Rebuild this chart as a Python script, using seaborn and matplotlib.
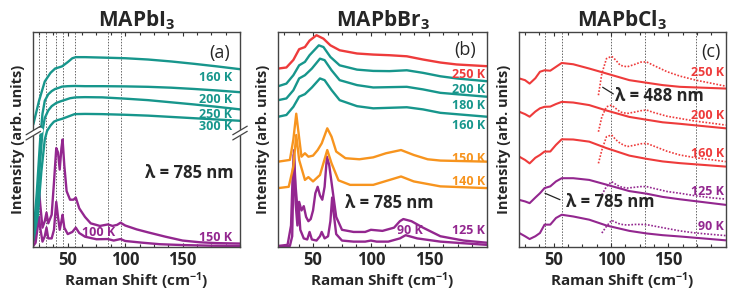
import numpy as np
import pandas as pd
import matplotlib
matplotlib.use("Agg")
import matplotlib.pyplot as plt
import seaborn as sns
from matplotlib.ticker import MultipleLocator, FixedLocator

# ---------------- data (intensity in arb. units, 0-100 axis) -------------
# Panel (a) MAPbI3
A_X_160 = [20, 25, 30, 35, 39, 42, 45, 50, 54, 57, 65, 80, 100, 120, 140, 160, 180, 200]
A_Y_160 = [57, 68, 77, 81, 83, 83.5, 84, 86, 87.8, 88.3, 88.3, 88.1, 87.8, 87.2, 86.3, 85.2, 84, 82.7]
A_X_200 = [20, 23, 26, 28, 30, 33, 36, 39, 42, 45, 50, 56, 65, 80, 100, 120, 140, 160, 180, 200]
A_Y_200 = [5, 25, 50, 62, 68, 71, 72.5, 73.5, 74, 74.6, 74.8, 74.9, 74.8, 74.8, 74.7, 74.5, 74.1, 73.5, 72.8, 72.0]
A_X_250 = [20, 23, 26, 28, 30, 33, 36, 40, 44, 48, 52, 57, 65, 80, 100, 120, 140, 160, 180, 200]
A_Y_250 = [4, 18, 40, 54, 60, 63.5, 65.5, 67, 67.8, 68.5, 69.2, 69.6, 69.7, 69.6, 69, 68.3, 67.3, 66.3, 65.2, 64]
A_X_300 = [20, 24, 27, 30, 32, 35, 38, 41, 45, 50, 56, 65, 80, 100, 120, 140, 160, 180, 200]
A_Y_300 = [3, 15, 35, 50, 54, 56.5, 58.3, 59, 59.6, 60.6, 61.8, 61.9, 61.8, 61.5, 61.1, 60.5, 59.9, 59.3, 58.7]
A_X_150 = [20, 22, 24, 25, 26, 28, 30, 31.5, 33, 36, 38, 40, 41.5, 43, 44.5, 45.5, 47, 49, 52, 55, 57,
           60, 65, 70, 78, 85, 89, 93, 96, 100, 110, 120, 135, 150, 165, 180, 200]
A_Y_150 = [2, 6, 20, 27, 20, 9, 12, 16, 11, 15, 30, 46, 44, 36, 46, 50, 38, 26, 22, 22, 23,
           18, 14, 11, 9.8, 10.5, 9.8, 10.3, 11.3, 10, 8.2, 6.8, 4.8, 3, 2.2, 1.8, 1.6]
A_X_100 = [20, 22, 24, 25, 26, 28, 30, 31.5, 33, 36, 38, 40, 41.5, 43, 44.5, 45.5, 47, 50, 54, 57,
           60, 65, 75, 85, 90, 96, 100, 115, 130, 150, 175, 200]
A_Y_100 = [0.5, 2, 10, 14, 9, 2.5, 5, 9, 4, 4, 8, 21, 14, 8, 12, 15, 9, 6, 7, 9,
           6.5, 4.8, 3.6, 3.7, 3, 3.7, 2.8, 2, 1.3, 0.9, 0.6, 0.5]
A_DASH = [25, 31, 40, 45.5, 56.5, 85, 96]

# Panel (b) MAPbBr3
B_X_250 = [20, 27, 33, 38, 43, 47, 53, 59, 65, 73, 88, 102, 116, 131, 145, 160, 174, 200]
B_Y_250 = [83, 83.5, 87, 92, 93, 96, 98.5, 96.9, 93.8, 91.5, 90, 89.5, 89.2, 88.7, 87.2, 85.8, 84.9, 84.1]
B_X_200 = [20, 27, 33, 38, 43, 47, 55, 59, 65, 73, 88, 102, 116, 131, 145, 160, 174, 200]
B_Y_200 = [74.8, 76, 79.9, 84.5, 86.1, 89.2, 93.8, 93, 88.4, 84.5, 82.5, 81.9, 81.8, 82.2, 81, 79.4, 78.4, 77.1]
B_X_180 = [20, 27, 33, 38, 43, 49, 56, 60, 66, 73, 88, 102, 131, 145, 160, 200]
B_Y_180 = [68.3, 69.1, 72.9, 78.4, 79.9, 83, 87.6, 86.9, 82.2, 77.6, 75.3, 74.2, 74.5, 73.3, 71.7, 69.9]
B_X_160 = [20, 27, 33, 38, 43, 49, 56, 60, 66, 73, 88, 102, 131, 145, 160, 200]
B_Y_160 = [60.6, 61.4, 65.2, 69.9, 71.1, 74.2, 78.4, 77.6, 73, 68.3, 65.5, 64.5, 65, 64, 62.4, 60.6]
B_X_150 = [20, 30, 33, 35.5, 37.5, 40, 43, 46, 50, 54, 57.5, 62.3, 66, 70, 78, 90, 102, 113, 126, 137,
           149, 160, 200]
B_Y_150 = [39.7, 40.5, 50, 62, 53, 42, 43.6, 42, 42.5, 45.1, 48.2, 55.2, 51.3, 44.4, 41.3, 40.8, 41.7, 43.6,
           45.1, 42.8, 40.8, 40.2, 39.7]
B_X_140 = [20, 29, 33, 35.5, 38, 43, 46, 50, 56, 62.3, 66, 72, 82, 102, 126, 137, 160, 200]
B_Y_140 = [27.4, 28, 37.4, 52.1, 40.5, 31.2, 32.5, 30.5, 33.5, 45.1, 38.9, 31, 28.9, 28.9, 32.8, 30.5, 28.2, 27.4]
B_X_125 = [20, 28, 31, 32.5, 33.5, 35, 36.5, 38, 40, 42, 44, 46, 48, 50, 52, 54, 56, 58, 60, 62, 64,
           66, 68, 70, 75, 85, 95, 100, 110, 120, 125, 128, 135, 145, 160, 180, 200]
B_Y_125 = [0.5, 1, 10, 35, 43, 28, 18, 21, 17, 19, 14, 12, 13, 17, 25, 28, 24, 22, 28, 42, 38,
           30, 22, 14, 8, 7, 7, 8, 7.5, 9, 12, 13, 12, 9, 5, 3, 2]
B_X_90 = [20, 30, 32, 33.5, 35, 36.5, 37.5, 39, 42, 45, 47, 49, 53, 56, 57.5, 60, 63, 65, 66.5, 68, 70,
          75, 85, 95, 100, 105, 115, 125, 130, 140, 160, 200]
B_Y_90 = [0, 0.5, 5, 45, 20, 10, 20, 8, 4, 3.5, 7, 3.5, 3, 5, 7, 4, 5, 12, 23, 15, 6,
          3, 2.5, 2.5, 3, 2.5, 2.5, 4, 5.5, 4, 2.5, 1]

# Panel (c) MAPbCl3 (solid: 785 nm, dotted: 488 nm)
C_X_SOLID = [20, 25, 29, 34, 38, 42, 47, 52, 57, 67, 81, 96, 116, 131, 145, 160, 200]
C_Y_250 = [78.4, 77.6, 76, 78.5, 81.5, 82.2, 82, 83.8, 85.6, 85, 83, 80.7, 77.6, 76.4, 75.3, 74.5, 73.7]
C_Y_200 = [62.9, 61.8, 60.6, 63, 64.5, 65.2, 65.3, 66.5, 67.5, 67.2, 66, 63.5, 60.5, 59.2, 58, 57.3, 55.2]
C_Y_160 = [42, 40.5, 38.9, 41.5, 42.8, 44.4, 44.4, 47.5, 50.1, 50, 49, 46, 42.5, 41, 39.8, 39, 37.4]
C_Y_125 = [21.9, 21.2, 20.4, 23, 25, 27.4, 28.2, 30.5, 32, 32, 31.2, 29, 26, 24.8, 23.3, 22.2, 19.6]
C_Y_90 = [6.5, 5, 3.7, 5, 6.5, 10.4, 10.4, 13.5, 15, 14.2, 12.7, 10, 7.5, 6.3, 5.5, 4.9, 3.1]
C_X_DOT = [89, 92, 96, 100.5, 104, 108, 114, 121, 126, 131, 137, 149, 160, 174, 189, 200]
C_D_250 = [70.6, 80.7, 87.6, 88.7, 87, 84.5, 83.8, 85, 86, 86.1, 84.5, 81.5, 79.5, 77.6, 76, 74.8]
C_D_200 = [53.6, 60.6, 65.2, 66, 64.5, 62.8, 62.1, 62.8, 63.4, 63.7, 62.6, 60.8, 59.8, 58.5, 57.5, 56.7]
C_D_160 = [38.9, 45.1, 51.3, 52.1, 50, 48.2, 46.7, 47.4, 48, 48.2, 47, 44.5, 42.8, 41.5, 40.5, 39.7]
C_D_125 = [None, 24.3, 28.1, 30.4, 29.2, 28, 27.4, 27.8, 28.1, 28.1, 27.3, 25.8, 25, 23.8, 22.8, 22.3]
C_D_90 = [None, 6.5, 9.6, 12.4, 11.5, 10.6, 10.2, 10.5, 10.5, 10.4, 9.8, 8.6, 7.5, 6.5, 5.8, 5.3]
C_DASH = [42, 57, 100, 130, 174]

TITLES = ["MAPbI$_3$", "MAPbBr$_3$", "MAPbCl$_3$"]
XTICKS = [50, 100, 150]

TEAL = "#17968c"
PURPLE = "#93278f"
RED = "#ee3b3b"
ORANGE = "#f7941e"

# ---------------- style ----------------
sns.set_theme(style="ticks")
plt.rcParams["font.family"] = ["Open Sans", "DejaVu Sans"]
plt.rcParams["mathtext.fontset"] = "custom"
plt.rcParams["mathtext.rm"] = "Open Sans"
plt.rcParams["mathtext.bf"] = "Open Sans:bold"
plt.rcParams["mathtext.default"] = "bf"

fig = plt.figure(figsize=(7.33, 2.96), dpi=100)
W, H = 733.0, 296.0
boxes = [(33.3, 240.0), (278.3, 486.7), (519.3, 725.7)]
top_px, bot_px = 32.0, 247.0
axes = []
for (l, r) in boxes:
    ax = fig.add_axes([l / W, (H - bot_px) / H, (r - l) / W, (bot_px - top_px) / H])
    axes.append(ax)


def line(ax, x, y, color, lw=1.7, ls="-"):
    df = pd.DataFrame({"x": x, "y": y}).dropna()
    sns.lineplot(data=df, x="x", y="y", ax=ax, color=color, lw=lw, linestyle=ls,
                 estimator=None, sort=False, legend=False)


def label(ax, x, y, s, color, ha="right", fs=9):
    ax.text(x, y, s, color=color, fontsize=fs, fontweight="bold", ha=ha, va="center")


for ax, t in zip(axes, TITLES):
    ax.set_xlim(20, 200)
    ax.set_ylim(0, 100)
    ax.set_yticks([])
    ax.xaxis.set_major_locator(FixedLocator(XTICKS))
    ax.xaxis.set_minor_locator(MultipleLocator(12.5))
    ax.tick_params(axis="x", which="both", direction="in", top=True, bottom=True,
                   length=3, width=0.8, color="#333333", labelsize=12, pad=3)
    ax.tick_params(axis="x", which="minor", length=2)
    for lab in ax.get_xticklabels():
        lab.set_fontweight("bold")
    for sp in ax.spines.values():
        sp.set_visible(True)
        sp.set_color("#444444")
        sp.set_linewidth(1.0)
    ax.set_xlabel("Raman Shift (cm$^{-1}$)", fontsize=11, fontweight="bold", labelpad=1)
    ax.set_ylabel("Intensity (arb. units)", fontsize=10.5, fontweight="bold", labelpad=6)
    ax.set_title(t, fontsize=15, fontweight="bold", pad=4)

# ---- panel a ----
ax = axes[0]
for d in A_DASH:
    ax.axvline(d, color="#666666", lw=0.7, ls=(0, (1.5, 1.5)), zorder=0)
line(ax, A_X_150, A_Y_150, PURPLE)
line(ax, A_X_100, A_Y_100, PURPLE)
line(ax, A_X_300, A_Y_300, TEAL)
line(ax, A_X_250, A_Y_250, TEAL)
line(ax, A_X_200, A_Y_200, TEAL)
line(ax, A_X_160, A_Y_160, TEAL)
label(ax, 193, 79, "160 K", TEAL)
label(ax, 193, 68.7, "200 K", TEAL)
label(ax, 193, 61.7, "250 K", TEAL)
label(ax, 193, 56, "300 K", TEAL)
label(ax, 193, 4.5, "150 K", PURPLE)
label(ax, 77, 6.8, "100 K", PURPLE, ha="center")
ax.text(156, 34.4, "λ = 785 nm", fontsize=12, fontweight="bold", ha="center", va="center")
ax.text(182, 90.2, "(a)", fontsize=13, ha="center", va="center")
# axis break marks
yb = 0.53
for xb in (0.0, 1.0):
    ax.plot([xb - 0.035, xb + 0.035], [yb - 0.012, yb + 0.012], transform=ax.transAxes,
            color="white", lw=4, clip_on=False, zorder=5)
    for dy in (-0.012, 0.012):
        ax.plot([xb - 0.035, xb + 0.035], [yb - 0.02 + dy, yb + 0.02 + dy], transform=ax.transAxes,
                color="#444444", lw=0.9, clip_on=False, zorder=6)

# ---- panel b ----
ax = axes[1]
line(ax, B_X_90, B_Y_90, PURPLE)
line(ax, B_X_125, B_Y_125, PURPLE)
line(ax, B_X_140, B_Y_140, ORANGE)
line(ax, B_X_150, B_Y_150, ORANGE)
line(ax, B_X_160, B_Y_160, TEAL)
line(ax, B_X_180, B_Y_180, TEAL)
line(ax, B_X_200, B_Y_200, TEAL)
line(ax, B_X_250, B_Y_250, RED)
label(ax, 198.5, 80, "250 K", RED)
label(ax, 198.5, 73.3, "200 K", TEAL)
label(ax, 198.5, 65.6, "180 K", TEAL)
label(ax, 198.5, 56.3, "160 K", TEAL)
label(ax, 198.5, 41.3, "150 K", ORANGE)
label(ax, 198.5, 30.4, "140 K", ORANGE)
label(ax, 198.5, 7.9, "125 K", PURPLE)
label(ax, 134, 7.9, "90 K", PURPLE, ha="center")
ax.text(116, 20.5, "λ = 785 nm", fontsize=12, fontweight="bold", ha="center", va="center")
ax.text(181, 91.6, "(b)", fontsize=13, ha="center", va="center")

# ---- panel c ----
ax = axes[2]
for d in C_DASH:
    ax.axvline(d, color="#666666", lw=0.7, ls=(0, (1.5, 1.5)), zorder=0)
for ys, c in [(C_Y_250, RED), (C_Y_200, RED), (C_Y_160, RED), (C_Y_125, PURPLE), (C_Y_90, PURPLE)]:
    line(ax, C_X_SOLID, ys, c, lw=1.5)
for ys, c in [(C_D_250, RED), (C_D_200, RED), (C_D_160, RED), (C_D_125, PURPLE), (C_D_90, PURPLE)]:
    line(ax, C_X_DOT, ys, c, lw=1.2, ls=(0, (1, 1)))
label(ax, 198.5, 81, "250 K", RED)
label(ax, 198.5, 61, "200 K", RED)
label(ax, 198.5, 43.6, "160 K", RED)
label(ax, 198.5, 25.8, "125 K", PURPLE)
label(ax, 198.5, 9.6, "90 K", PURPLE)
ax.text(142.5, 70.2, "λ = 488 nm", fontsize=12, fontweight="bold", ha="center", va="center")
ax.plot([92.7, 102], [74.3, 71.2], color="#222222", lw=0.9)
ax.text(99.5, 21.1, "λ = 785 nm", fontsize=12, fontweight="bold", ha="center", va="center")
ax.plot([42.4, 55.5], [25, 22], color="#222222", lw=0.9)
ax.text(187, 90.8, "(c)", fontsize=13, ha="center", va="center")

fig.savefig("out.png", dpi=100)
